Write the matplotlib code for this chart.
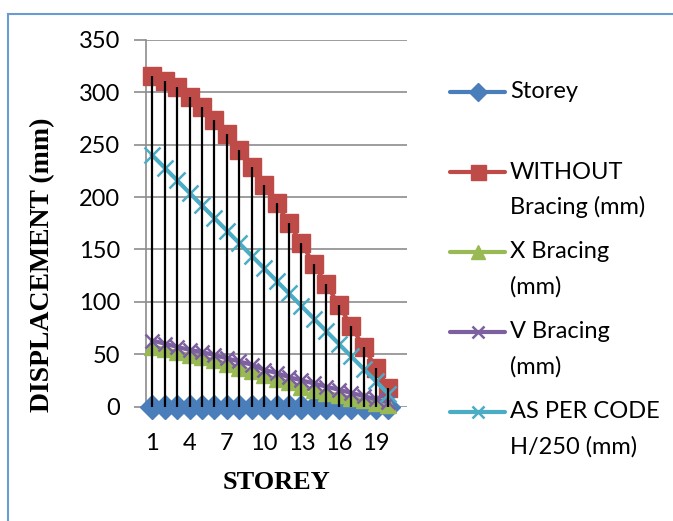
import matplotlib.pyplot as plt
from matplotlib.lines import Line2D

plt.rcParams['font.family'] = ['Lato', 'DejaVu Sans']

# data
storeys = [1, 2, 3, 4, 5, 6, 7, 8, 9, 10, 11, 12, 13, 14, 15, 16, 17, 18, 19, 20]
storey_series = [0, 0, 0, 0, 0, 0, 0, 0, 0, 0, 0, 0, 0, 0, 0, 0, 0, 0, 0, 0]
without_bracing = [316, 311, 305, 296, 286, 274, 260, 245, 229, 212,
                   194, 175, 156, 136, 117, 97, 77, 57, 37, 18]
x_bracing = [57, 55, 52, 49, 47, 44, 41, 37, 34, 30,
             26, 23, 19, 16, 13, 11, 8, 6, 3, 1]
v_bracing = [63, 60, 57, 54, 52, 49, 46, 43, 40, 35,
             32, 28, 25, 22, 19, 16, 13, 10, 7, 4]
as_per_code = [240, 228, 216, 204, 192, 180, 168, 156, 144, 132,
               120, 108, 96, 84, 72, 60, 48, 36, 24, 12]
x_ticks = [1, 4, 7, 10, 13, 16, 19]
y_ticks = [0, 50, 100, 150, 200, 250, 300, 350]

legend_labels = [['Storey'], ['WITHOUT', 'Bracing (mm)'], ['X Bracing', '(mm)'],
                 ['V Bracing', '(mm)'], ['AS PER CODE', 'H/250 (mm)']]

# style: colour, marker, markersize, markeredgewidth
styles = [
    ('#4A7EBB', 'D', 12, 1),
    ('#BE4B48', 's', 13.5, 1),
    ('#98B954', '^', 12, 1),
    ('#7D60A0', 'x', 10, 1.8),
    ('#4BACC6', 'x', 11, 1.8),
]
all_series = [storey_series, without_bracing, x_bracing, v_bracing, as_per_code]

W, H = 673, 521
fig = plt.figure(figsize=(W / 100, H / 100), dpi=100)
ax = fig.add_axes([146 / W, 1 - 406.5 / H, 261 / W, 366.5 / H])

for i, (vals, (c, m, ms, mew)) in enumerate(zip(all_series, styles)):
    ax.plot(storeys, vals, color=c, lw=3, marker=m, ms=ms, mec=c, mfc=c,
            mew=mew, clip_on=False, zorder=3 + i)

# drop lines from highest point down to the axis
tops = [max(v) for v in zip(*all_series)]
ax.vlines(storeys, 0, tops, colors='black', lw=1.6, zorder=10)

ax.set_xlim(0.5, 21.5)
ax.set_ylim(0, 350)
ax.set_xticks(x_ticks)
ax.set_yticks(y_ticks)
ax.grid(axis='y', color='#8c8c8c', lw=1.2)
ax.set_axisbelow(True)
for s in ['top', 'right', 'bottom']:
    ax.spines[s].set_visible(False)
ax.spines['left'].set_color('#8c8c8c')
ax.spines['left'].set_linewidth(1.2)
ax.tick_params(axis='y', length=8.5, width=1.2, color='#8c8c8c', pad=10, labelsize=17)
ax.tick_params(axis='x', length=0, pad=19, labelsize=17)

ax.set_xlabel('STOREY', family='Liberation Serif', fontweight='bold', fontsize=19, labelpad=12)
fig.text(43 / W, 1 - 265 / H, 'DISPLACEMENT (mm)', family='Liberation Serif',
         fontweight='bold', fontsize=20, rotation=90, ha='center', va='center')

# legend on the right
for i, (lines, (c, m, ms, mew)) in enumerate(zip(legend_labels, styles)):
    y = 92 + 80 * i
    fy = 1 - y / H
    fig.add_artist(Line2D([450 / W, 505 / W], [fy, fy], color=c, lw=3,
                          solid_capstyle='round', transform=fig.transFigure))
    fig.add_artist(Line2D([477.5 / W], [fy], color=c, marker=m, ms=ms * 0.8, mec=c,
                          mfc=c, mew=mew, transform=fig.transFigure))
    for j, t in enumerate(lines):
        fig.text(510 / W, 1 - (y + 35 * j) / H, t, fontsize=17, va='center')

# chart frame
fig.add_artist(Line2D([8 / W, 8 / W], [0, 1 - 14 / H], color='#6A9BD3', lw=1.5,
                      transform=fig.transFigure))
fig.add_artist(Line2D([8 / W, 1], [1 - 14 / H, 1 - 14 / H], color='#6A9BD3', lw=1.5,
                      transform=fig.transFigure))

fig.savefig('out.png', dpi=100)
